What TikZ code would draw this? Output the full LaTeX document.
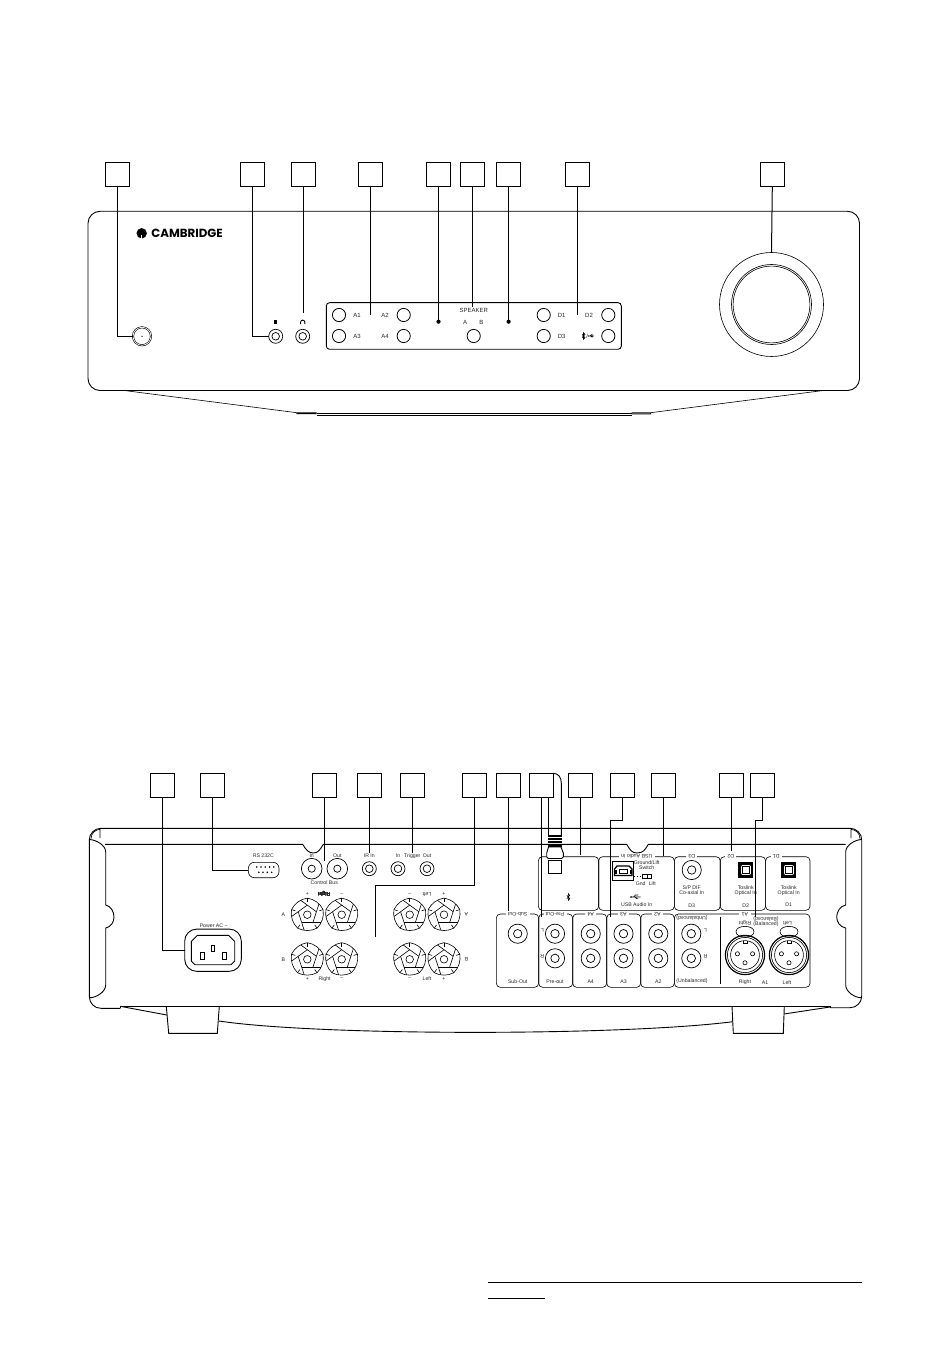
\documentclass[tikz,border=0pt]{standalone}
\usepackage{fontspec}
\setmainfont{Liberation Sans}
\newfontfamily\logofont{Poppins}
\usetikzlibrary{calc}
\tikzset{
  callout/.style={draw,line width=0.45pt,minimum size=12.2pt,inner sep=0pt,outer sep=0pt},
  leader/.style={line width=0.5pt},
  outline/.style={line width=0.45pt},
  thin outline/.style={line width=0.3pt},
  lbl/.style={font=\fontsize{2.6}{2.6}\selectfont,inner sep=0pt,text=black!85},
  flip/.style={lbl,rotate=180},
  frontlbl/.style={font=\fontsize{3}{3}\selectfont,inner sep=0pt,text=black!85},
  panel/.style={line width=0.3pt,rounded corners=2pt},
  gap/.style={fill=white,inner xsep=1.2pt,inner ysep=0.5pt}
}
\newcommand{\rcajack}[2]{
  \draw[line width=0.35pt] (#1,#2) circle[radius=9.6];
  \draw[line width=0.35pt] (#1,#2) circle[radius=4.2];
}
\newcommand{\smalljack}[2]{
  \draw[line width=0.35pt] (#1,#2) circle[radius=7];
  \draw[line width=0.35pt] (#1,#2) circle[radius=3.8];
}
\newcommand{\speakerpost}[2]{
  \begin{scope}[shift={(#1,#2)}]
    % outer lobes, then the pinwheel
    \foreach \a in {-90,-18,54,126,198}{
      \draw[thin outline] (\a:16.6) .. controls (\a+24:17) and (\a+48:17) .. (\a+72:16.6);
      \draw[thin outline] (\a:9.6) -- (\a+72:9.6);
      \draw[thin outline] (\a:9.6) -- ($(\a:9.6)!-0.7!(\a+72:9.6)$);
      \draw[thin outline] (\a:16.6) -- (\a:12.6);
    }
    \draw[thin outline] (0,0) circle[radius=3.8];
  \end{scope}
}
\newcommand{\xlrsocket}[2]{
  \begin{scope}[shift={(#1,#2)}]
    \draw[line width=0.6pt] (0,0) circle[radius=19.6];
    \draw[thin outline] (0,0) circle[radius=17.6];
    \draw[thin outline] (0,0) circle[radius=14.4];
    \draw[thin outline] (-2,-14.3) -- (-2,-12) -- (2,-12) -- (2,-14.3);
    \foreach \px/\py in {-7.6/-1.2,7.6/-1.2,0/7.8}
      \draw[thin outline] (\px,\py) circle[radius=2.1];
    \draw[thin outline] (-9,-23.3) .. controls (-9,-30.4) and (9,-30.4) .. (9,-23.3)
      .. controls (9,-16.2) and (-9,-16.2) .. (-9,-23.3) -- cycle;
  \end{scope}
}
\newcommand{\optical}[2]{
  \begin{scope}[shift={(#1,#2)}]
    \fill (-7.6,-7.6) rectangle (7.6,7.6);
    \fill[white] (-5.2,-5.2) rectangle (5.2,5.2);
    \draw[thin outline] (-3.6,-3.6) rectangle (3.6,3.6);
    \draw[thin outline] (-5.2,-5.2) -- (-3.6,-3.6) (5.2,-5.2) -- (3.6,-3.6) (-5.2,5.2) -- (-3.6,3.6) (5.2,5.2) -- (3.6,3.6);
  \end{scope}
}
\newcommand{\btmark}[2]{
  \draw[line width=0.3pt] (#1-1.5,#2-1.7) -- (#1+1.5,#2+1.7) -- (#1,#2+3.3) -- (#1,#2-3.3) -- (#1+1.5,#2-1.7) -- (#1-1.5,#2+1.7);
}
\newcommand{\usbmark}[2]{
  \draw[line width=0.3pt] (#1-5,#2) -- (#1+4.5,#2) (#1-2.5,#2) -- (#1-0.5,#2-2) -- (#1+2,#2-2) (#1-1,#2) -- (#1+0.5,#2+1.6) -- (#1+2,#2+1.6);
  \fill (#1-5,#2) circle[radius=0.9];
}
\begin{document}
\begin{tikzpicture}[x=0.5pt,y=-0.5pt]
  \useasboundingbox (0,0) rectangle (950,1369);

  % Front panel callouts:
  \foreach \name/\xpos in {fa/117.3,fb/252.3,fc/303.3,fd/370.3,fe/438.3,ff/472.3,fg/508.3,fh/577.3,fi/772.3}
    \node[callout] (\name) at (\xpos,174.3) {};

  % Front body:
  \draw[outline,rounded corners=6pt] (88,211.3) rectangle (859.5,390.5);
  \draw[thin outline] (124.3,390.5) -- (296.7,412.7) -- (316.7,412.7) (296.7,412.7) -- (296.7,413.7) -- (316.7,413.7);
  \draw[thin outline] (823.3,390.5) -- (650.7,412.7) -- (631.7,412.7) (650.7,412.7) -- (650.7,414) -- (631.7,414);
  \draw[outline] (316.7,413.3) -- (631.7,413.3);
  \draw[thin outline] (316.7,415.2) -- (631.7,415.2);

  % Logo:
  \fill (141.7,233.3) circle[radius=5.2];
  \fill[white] (141,235.5) rectangle (142.4,238.7);
  \node[inner sep=0pt,anchor=west] (logo) at (151,233.5) {\logofont\fontsize{5.9}{5.9}\selectfont\textbf{CAMBRIDGE}};

  % Standby and jacks:
  \node[circle,draw,thin outline,minimum size=9pt,inner sep=0pt,outer sep=0pt,double,double distance=0.35pt] (standby) at (142,336.3) {};
  \fill (142,336.3) circle[radius=0.7];
  \node[circle,minimum size=7pt,inner sep=0pt,outer sep=0pt] (audiojack) at (275.7,336.3) {};
  \smalljack{275.7}{336.3}
  \node[circle,minimum size=7pt,inner sep=0pt,outer sep=0pt] (phonejack) at (302.7,336.3) {};
  \smalljack{302.7}{336.3}
  \fill (274,320) rectangle (277.4,324.2);
  \draw[line width=0.45pt] (300.6,324.2) -- (300.6,322.2) arc[start angle=180,end angle=360,radius=2.1] -- (304.8,324.2);

  % Source panel:
  \node[draw,outline,rounded corners=1.6pt,minimum width=147.5pt,minimum height=23.3pt,inner sep=0pt,outer sep=0pt] (srcpanel) at (473.8,326) {};
  \foreach \xpos/\ypos in {339/315,339/336,403.7/315,403.7/336,473.7/336,543.7/315,543.7/336,608.3/315,608.3/336}
    \draw[line width=0.4pt] (\xpos,\ypos) circle[radius=6.6];
  \node[frontlbl] (aa) at (357,315) {A1};
  \node[frontlbl] (ab) at (385,315) {A2};
  \node[frontlbl] (ac) at (357,336) {A3};
  \node[frontlbl] (ad) at (385,336) {A4};
  \node[frontlbl] (speaker) at (473.7,310.7) {SPEAKER};
  \node[frontlbl] (spa) at (465,322) {A};
  \node[frontlbl] (spb) at (481.3,322) {B};
  \node[frontlbl] (da) at (561.7,315) {D1};
  \node[frontlbl] (db) at (589,315) {D2};
  \node[frontlbl] (dc) at (561.7,336) {D3};
  \btmark{583.5}{336}
  \node[frontlbl] (dslash) at (587.3,336) {/};
  \begin{scope}[shift={(591.5,336)},scale=0.6]
    \usbmark{0}{0}
  \end{scope}
  \fill (438.5,321.7) circle[radius=2.1];
  \fill (508.6,321.7) circle[radius=2.1];

  % Volume knob:
  \node[circle,draw,thin outline,minimum size=52pt,inner sep=0pt,outer sep=0pt] (knob) at (771.5,304.5) {};
  \draw[line width=0.3pt] (771.5,304.5) circle[radius=40];
  \draw[line width=0.3pt] (771.5,304.5) circle[radius=38.4];

  % Front leaders:
  \coordinate (fcend) at (303.3,313.5);
  \coordinate (fdend) at (370.3,315);
  \coordinate (feend) at (438.3,320);
  \coordinate (ffend) at (472.3,307);
  \coordinate (fgend) at (508.3,320);
  \coordinate (fhend) at (577.3,315);
  \draw[leader] (fa.south) |- (standby.west);
  \draw[leader] (fb.south) |- (audiojack.west);
  \draw[leader] (fc.south) -- (fcend);
  \draw[leader] (fd.south) -- (fdend);
  \draw[leader] (fe.south) -- (feend);
  \draw[leader] (ff.south) -- (ffend);
  \draw[leader] (fg.south) -- (fgend);
  \draw[leader] (fh.south) -- (fhend);
  \draw[leader] (fi.south) -- (knob.north);

  % Rear panel callouts:
  \foreach \name/\xpos in {ra/162.3,rb/212.3,rc/324.3,rd/369.3,re/412.3,rf/474.3,rg/508.3,rh/541.3,ri/580.3,rj/622.3,rk/663.3,rl/731.3,rm/762.3}
    \node[callout] (\name) at (\xpos,785.3) {};

  % Rear body:
  \draw[outline,rounded corners=5.8pt] (120.3,1008.3) -- (89.3,1008.3) -- (89.3,828.3) -- (861.7,828.3) -- (861.7,1007.7) -- (830,1007.7);
  \draw[outline] (120.3,1008.3) -- (120.3,1006.3) -- (830,1006.3) -- (830,1007.7);
  \draw[outline] (105,844.3) -- (302.7,844.3) .. controls (306,850) and (309,853) .. (313,853)
    .. controls (318,853) and (320,850) .. (323.3,844.3) -- (626.7,844.3) .. controls (630,850) and (632,853) .. (637,853)
    .. controls (643,853) and (645,850) .. (648.3,844.3) -- (845.7,844.3);
  % side flanges
  \draw[outline] (90,839.5) .. controls (96,840) and (105.7,845) .. (105.7,852) -- (105.7,905)
    .. controls (111,906) and (114,912) .. (114,917) .. controls (114,922) and (111,927) .. (105.7,928) -- (105.7,985)
    .. controls (105.7,992) and (96,997.7) .. (90,997.7);
  \draw[thin outline] (91,839) .. controls (91,833) and (95,830) .. (100,829.3) -- (100,838);
  \draw[outline] (861,839.5) .. controls (855,840) and (845.7,845) .. (845.7,852) -- (845.7,905)
    .. controls (840,906) and (836.7,912) .. (836.7,917) .. controls (836.7,922) and (840,927) .. (845.7,928) -- (845.7,985)
    .. controls (845.7,992) and (855,997.7) .. (861,997.7);
  \draw[thin outline] (860,839) .. controls (860,833) and (856,830) .. (851,829.3) -- (851,838);

  % Feet:
  \draw[outline] (166.3,1006.3) -- (168.7,1033.3) -- (217.3,1033.3) -- (219.3,1006.3);
  \draw[outline] (732,1006.3) -- (733.3,1033.3) -- (783.3,1033.3) -- (784.3,1006.3);
  \draw[outline] (120.3,1006.3) -- (166.8,1015);
  \draw[outline] (218.8,1021) .. controls (320,1036) and (620,1036) .. (732.8,1021.7);
  \draw[outline] (784,1014) -- (830,1007);

  % Mains inlet:
  \node[draw,outline,rounded corners=6pt,minimum width=28.3pt,minimum height=21.1pt,inner sep=0pt,outer sep=0pt] (inlet) at (213,950.2) {};
  \draw[outline] (197.5,935.3) -- (228.5,935.3) -- (234.7,941.5) -- (234.7,961) -- (231,964.7) -- (195,964.7) -- (191.3,961) -- (191.3,941.5) -- cycle;
  \draw[thin outline] (200,952.3) rectangle (204,959.3);
  \draw[thin outline] (211,945) rectangle (214.7,951.7);
  \draw[thin outline] (222.3,952.3) rectangle (226,959.3);
  \node[lbl] (inletlbl) at (213.7,925.7) {Power AC \char"007E};

  % RS232:
  \node[draw,thin outline,rounded corners=3pt,minimum width=15.3pt,minimum height=7.7pt,inner sep=0pt,outer sep=0pt] (serial) at (263.7,870) {};
  \foreach \xpos in {256.7,261,265.2,269.5,273.7}
    \fill (\xpos,867) circle[radius=0.9];
  \foreach \xpos in {258.8,263,267.3,271.6}
    \fill (\xpos,872.3) circle[radius=0.9];
  \node[lbl] (seriallbl) at (263.3,855.7) {RS 232C};

  % Control, IR, trigger:
  \foreach \xpos in {311.7,337.3}{
    \draw[line width=0.35pt] (\xpos,868.7) circle[radius=10.3];
    \draw[line width=0.35pt] (\xpos,868.7) circle[radius=3.6];
  }
  \foreach \xpos in {369.3,398,427}{
    \smalljack{\xpos}{868.7}
  }
  \node[lbl] (ctrlin) at (311.7,855.7) {In};
  \node[lbl] (ctrlout) at (337.3,855.7) {Out};
  \node[lbl] (irin) at (369.3,855.7) {IR In};
  \node[lbl] (trigin) at (398,855.7) {In};
  \node[lbl] (trig) at (412.3,855.7) {Trigger};
  \node[lbl] (trigout) at (427,855.7) {Out};
  \node[lbl] (ctrl) at (324.3,882.3) {Control Bus};

  % Speaker terminals:
  \foreach \xpos in {307.3,341.7,409.7,444}
    \foreach \ypos in {914.7,959.3}
      \speakerpost{\xpos}{\ypos}
  \node[flip] (rtop) at (324.3,894.3) {Right};
  \node[flip] (ltop) at (427,894.3) {Left};
  \node[lbl] (pa) at (307.3,894.3) {+};
  \node[lbl] (ma) at (341.7,894.3) {\char"2013};
  \node[lbl] (mb) at (409.7,894.3) {\char"2013};
  \node[lbl] (pb) at (444,894.3) {+};
  \node[lbl] (pc) at (307.3,979) {+};
  \node[lbl] (mc) at (341.7,979) {\char"2013};
  \node[lbl] (md) at (409.7,979) {\char"2013};
  \node[lbl] (pd) at (444,979) {+};
  \node[lbl] (rbot) at (324.6,979) {Right};
  \node[lbl] (lbot) at (427,979) {Left};
  \node[lbl] (spka) at (283.3,914.7) {A};
  \node[lbl] (spkb) at (283.3,959.3) {B};
  \node[flip] (spkc) at (466.3,914.7) {A};
  \node[flip] (spkd) at (466.3,959.3) {B};

  % Input panels:
  \draw[panel] (538.3,856.7) rectangle (598.7,910.3);
  \draw[panel] (598.7,856.7) rectangle (674.3,910.3);
  \draw[panel] (674.3,856.7) rectangle (720.2,910.3);
  \draw[panel] (720.2,856.7) rectangle (765.6,910.3);
  \draw[panel] (765.6,856.7) rectangle (810,910.3);
  \draw[panel] (496.3,914) rectangle (538.7,987.3);
  \draw[panel] (538.7,914) rectangle (572.7,987.3);
  \draw[panel] (572.7,914) rectangle (606.7,987.3);
  \draw[panel] (606.7,914) rectangle (640.7,987.3);
  \draw[panel] (640.7,914) rectangle (674.3,987.3);
  \draw[panel] (674.3,914) rectangle (810,987.3);
  \draw[thin outline] (720,916.7) -- (720,983.5);

  \node[flip,gap] (ttusb) at (636.7,856.5) {USB Audio In};
  \node[flip,gap] (ttdc) at (691.7,856.5) {D3};
  \node[flip,gap] (ttdb) at (730.7,856.5) {D2};
  \node[flip,gap] (ttda) at (776.3,856.5) {D1};
  \node[flip,gap] (ttsub) at (517.7,914) {Sub-Out};
  \node[flip,gap] (ttpre) at (555,914) {Pre-Out};
  \node[flip,gap] (ttad) at (590.7,914) {A4};
  \node[flip,gap] (ttac) at (623.5,914) {A3};
  \node[flip,gap] (ttab) at (657.5,914) {A2};
  \node[flip,gap] (ttaa) at (745,914) {A1};

  % Bluetooth aerial:
  \draw[outline] (553.3,773.3) .. controls (558,773.3) and (561.3,777) .. (561.3,783) -- (561.3,835);
  \draw[outline] (548.3,797.4) -- (548.3,835);
  \foreach \ypos in {835,838.2,841.4,844.6}
    \fill (547.7,\ypos) rectangle (561.8,\ypos+1.9);
  \draw[outline,fill=white] (548.5,847) -- (561,847) -- (563.3,853) -- (563.3,857) -- (561.5,858.5) -- (548.3,858.5) -- (546.7,857) -- (546.7,853) -- cycle;
  \draw[outline,fill=white] (548.3,860.5) rectangle (561.2,873.3);
  \btmark{568.3}{897}

  % USB audio:
  \fill (612.3,860.7) rectangle (634.3,880.7);
  \fill[white] (613.4,861.8) rectangle (633.2,879.6);
  \draw[line width=0.6pt] (617,866) -- (629,866) -- (632,869) -- (632,875.5) -- (614.5,875.5) -- (614.5,869) -- cycle;
  \fill (615,870) rectangle (617,874);
  \fill (629.5,870) rectangle (631.5,874);
  \draw[thin outline] (619,869) rectangle (627.5,873);
  \node[lbl] (gndlift) at (646.7,862.8) {Ground/Lift};
  \node[lbl] (switch) at (646.7,867.3) {Switch};
  \draw[line width=0.4pt,densely dotted] (634.3,876.3) -- (642.3,876.3);
  \fill (642.3,874) rectangle (652,879);
  \fill[white] (643.3,875) rectangle (646.7,878);
  \fill[white] (647.7,875) rectangle (651,878);
  \node[lbl] (gnd) at (640.7,883.3) {Gnd};
  \node[lbl] (lift) at (652.3,883.3) {Lift};
  \usbmark{636}{897}
  \node[lbl] (usbin) at (636.7,905) {USB Audio In};

  % Digital inputs:
  \rcajack{691.7}{870}
  \node[lbl] (dca) at (691.7,888) {S/P DIF};
  \node[lbl] (dcb) at (691.7,892.7) {Co-axial In};
  \node[lbl] (dcc) at (691.7,905.2) {D3};
  \optical{745.7}{870}
  \node[lbl] (dba) at (745.7,888) {Toslink};
  \node[lbl] (dbb) at (745.7,892.7) {Optical In};
  \node[lbl] (dbc) at (745.7,905.2) {D2};
  \optical{788.7}{870}
  \node[lbl] (daa) at (788.7,888) {Toslink};
  \node[lbl] (dab) at (788.7,892.7) {Optical In};
  \node[lbl] (dac) at (788.7,905.2) {D1};

  % Analogue inputs:
  \rcajack{517.7}{933.7}
  \foreach \xpos in {555,590.7,623.5,658.3,691.3}{
    \rcajack{\xpos}{933.7}
    \rcajack{\xpos}{958.3}
  }
  \node[lbl] (btsub) at (517.7,982) {Sub-Out};
  \node[lbl] (btpre) at (555,982) {Pre-out};
  \node[lbl] (btad) at (590.7,982) {A4};
  \node[lbl] (btac) at (623.5,982) {A3};
  \node[lbl] (btab) at (658.3,982) {A2};
  \node[lbl] (btun) at (692,981.3) {(Unbalanced)};
  \node[flip] (ttun) at (692,917.6) {(Unbalanced)};
  \node[flip] (prel) at (542.3,930) {L};
  \node[flip] (prer) at (542.3,956) {R};
  \node[flip] (unl) at (705.5,930) {L};
  \node[flip] (unr) at (705.5,956) {R};

  % Balanced:
  \xlrsocket{745}{955}
  \xlrsocket{789}{955}
  \node[flip] (balflip) at (766,919) {(Balanced)};
  \node[lbl] (bal) at (766,923.7) {(Balanced)};
  \node[flip] (xlrrt) at (745,923.2) {Right};
  \node[flip] (xlrlt) at (787.5,923.2) {Left};
  \node[lbl] (xlrrb) at (745,982.3) {Right};
  \node[lbl] (xlra) at (765,982.3) {A1};
  \node[lbl] (xlrlb) at (787,982.3) {Left};

  % Rear leaders:
  \coordinate (rcend) at (324.3,861);
  \coordinate (rdend) at (369.3,853);
  \coordinate (reend) at (412.3,853);
  \coordinate (rfknee) at (375,885.3);
  \coordinate (rfend) at (375,936.7);
  \coordinate (rgend) at (508.3,910.5);
  \coordinate (rhend) at (541.3,916.7);
  \coordinate (riend) at (580.3,855);
  \coordinate (rjknee) at (610,820);
  \coordinate (rjend) at (610,916.7);
  \coordinate (rkend) at (663.3,855.7);
  \coordinate (rlend) at (731.3,851);
  \coordinate (rmknee) at (755.7,820);
  \coordinate (rmend) at (755.7,916.7);
  \draw[leader] (ra.south) |- (inlet.west);
  \draw[leader] (rb.south) |- (serial.west);
  \draw[leader] (rc.south) -- (rcend);
  \draw[leader] (rd.south) -- (rdend);
  \draw[leader] (re.south) -- (reend);
  \draw[leader] (rf.south) |- (rfknee) -- (rfend);
  \draw[leader] (rg.south) -- (rgend);
  \draw[leader] (rh.south) -- (rhend);
  \draw[leader] (ri.south) -- (riend);
  \draw[leader] (rj.south) |- (rjknee) -- (rjend);
  \draw[leader] (rk.south) -- (rkend);
  \draw[leader] (rl.south) -- (rlend);
  \draw[leader] (rm.south) |- (rmknee) -- (rmend);

  % Footer rules:
  \coordinate (rulea) at (488,1282.3);
  \coordinate (ruleb) at (861.7,1282.3);
  \coordinate (rulec) at (488,1298.3);
  \coordinate (ruled) at (545,1298.3);
  \draw[leader] (rulea) -- (ruleb);
  \draw[leader] (rulec) -- (ruled);
\end{tikzpicture}
\end{document}
